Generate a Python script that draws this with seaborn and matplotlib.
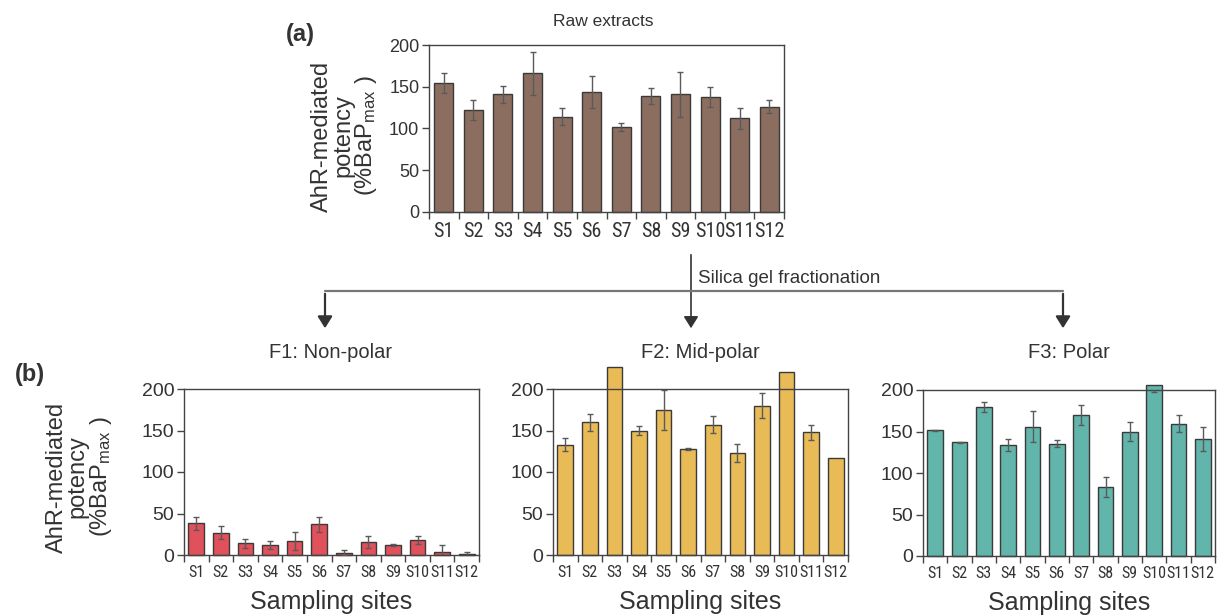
import matplotlib
matplotlib.use("Agg")
import matplotlib.pyplot as plt
import seaborn as sns
import pandas as pd
import numpy as np
from matplotlib import font_manager
from matplotlib.font_manager import FontProperties
from matplotlib.lines import Line2D
from matplotlib.patches import FancyArrowPatch

# ---------------- data ----------------
sites = ["S1", "S2", "S3", "S4", "S5", "S6", "S7", "S8", "S9", "S10", "S11", "S12"]
raw_vals = [155, 122, 141, 166, 114, 144, 102, 139, 141, 138, 112, 126]
raw_err = [12, 12, 10, 26, 10, 19, 5, 10, 27, 12, 13, 8]
f1_vals = [38, 27, 14, 12, 17, 37, 3, 16, 12, 18, 4, 1]
f1_err = [8, 8, 5, 5, 11, 9, 3, 7, 1.5, 5, 8, 2.5]
f2_vals = [133, 160, 226, 150, 175, 128, 157, 123, 180, 220, 148, 117]
f2_err = [8, 10, 0, 5, 24, 1, 10, 10.5, 15, 0, 9, 0]
f3_vals = [151.5, 137, 179, 134, 156, 135.5, 170, 83, 150, 205.5, 159.5, 140.5]
f3_err = [0.8, 0.8, 6, 7.5, 19, 4.5, 12.5, 12.5, 11.5, 8, 10.5, 14.5]
yticks = [0, 50, 100, 150, 200]

titles = ["Raw extracts", "F1: Non-polar", "F2: Mid-polar", "F3: Polar"]
colors = ["#8c6e60", "#e0515b", "#e8bb57", "#62b5aa"]

# ---------------- style ----------------
sns.set_theme(style="white")
plt.rcParams["font.family"] = ["Liberation Sans", "DejaVu Sans"]
plt.rcParams["mathtext.fontset"] = "custom"
plt.rcParams["mathtext.rm"] = "Liberation Sans"
plt.rcParams["mathtext.it"] = "Liberation Sans"


def find_condensed():
    best = None
    score_best = -1
    for f in font_manager.fontManager.ttflist:
        nm = f.name
        st = str(f.stretch).lower()
        fn = str(f.fname).lower()
        cond = ("narrow" in nm.lower() or "condensed" in nm.lower() or "condensed" in st
                or "narrow" in fn or "condensed" in fn)
        if not cond:
            continue
        if str(f.style) != "normal":
            continue
        w = f.weight
        try:
            w = int(w)
        except Exception:
            w = 400 if str(w).lower() in ("normal", "regular", "book") else 700
        if w > 500 or "bold" in fn:
            continue
        s = 1
        if "liberation" in fn:
            s = 5
        elif "roboto" in fn or "opensans" in fn or "open sans" in fn:
            s = 4
        elif "noto" in fn:
            s = 3
        elif "dejavu" in fn and "serif" not in fn and "mono" not in fn:
            s = 2
        if s > score_best:
            score_best = s
            best = f.fname
    return best


cond_path = find_condensed()

TXT = "#333333"
SPINE = "#444444"

fig = plt.figure(figsize=(12.17, 6.16), dpi=100)
W, H = 1217.0, 616.0


def ax_px(left, top, right, bottom):
    return fig.add_axes([left / W, 1 - bottom / H, (right - left) / W, (bottom - top) / H])


ax_top = ax_px(429, 45, 784, 212)
ax1 = ax_px(184, 389, 479, 555)
ax2 = ax_px(553, 389, 848, 555)
ax3 = ax_px(923, 390, 1215, 556)

ylab = "AhR-mediated\npotency\n(%BaP$_{\\mathrm{max}}$ )"


def draw(ax, vals, errs, color, xfs_cond, xfs_reg, yfs, xpad):
    df = pd.DataFrame({"site": sites, "val": vals})
    sns.barplot(data=df, x="site", y="val", color=color, saturation=1, width=0.64,
                edgecolor="#3a3a3a", linewidth=1.0, errorbar=None, ax=ax)
    for p in ax.patches:
        p.set_clip_on(False)
    e = np.array(errs, dtype=float)
    v = np.array(vals, dtype=float)
    m = e > 0
    ax.errorbar(np.arange(len(sites))[m], v[m], yerr=e[m], fmt="none", ecolor="#5a5a5a",
                elinewidth=1.0, capsize=2.5, capthick=1.0, zorder=5)
    ax.set_xlim(-0.5, 11.5)
    ax.set_ylim(0, 200)
    ax.set_yticks(yticks)
    ax.set_xticks(np.arange(len(sites)))
    ax.set_xticks(np.arange(-0.5, 12, 1.0), minor=True)
    ax.tick_params(axis="x", which="major", length=0, pad=xpad, colors=TXT,
                   labelsize=xfs_cond if cond_path else xfs_reg)
    ax.tick_params(axis="x", which="minor", length=5, width=1, color=SPINE, direction="out", bottom=True)
    ax.tick_params(axis="y", length=5, width=1, color=SPINE, direction="out", left=True,
                   labelsize=yfs, labelcolor=TXT, pad=2)
    if cond_path:
        fp = FontProperties(fname=cond_path, size=xfs_cond)
        for t in ax.get_xticklabels():
            t.set_fontproperties(fp)
    for s in ax.spines.values():
        s.set_color(SPINE)
        s.set_linewidth(1.0)
    ax.set_xlabel("")
    ax.set_ylabel("")


draw(ax_top, raw_vals, raw_err, colors[0], 14.5, 12.5, 13, 7)
draw(ax1, f1_vals, f1_err, colors[1], 11.5, 9.5, 14, 7)
draw(ax2, f2_vals, f2_err, colors[2], 11.5, 9.5, 14, 7)
draw(ax3, f3_vals, f3_err, colors[3], 11.5, 9.5, 14, 7)

# y labels
ax_top.set_ylabel(ylab, fontsize=17, color=TXT, linespacing=0.95, va="center", ha="center")
ax_top.yaxis.set_label_coords(-0.236, 0.455)
ax1.set_ylabel(ylab, fontsize=17, color=TXT, linespacing=0.95, va="center", ha="center")
ax1.yaxis.set_label_coords(-0.353, 0.47)

for ax in (ax1, ax2, ax3):
    ax.set_xlabel("Sampling sites", fontsize=18, color=TXT)
    ax.xaxis.set_label_coords(0.5, -0.283)
    ax.xaxis.label.set_va("center")

# titles
fig.text(603 / W, 1 - 22 / H, titles[0], ha="center", va="center", fontsize=12.5, color=TXT)
fig.text(331 / W, 1 - 353 / H, titles[1], ha="center", va="center", fontsize=14.5, color=TXT)
fig.text(700 / W, 1 - 353 / H, titles[2], ha="center", va="center", fontsize=14.5, color=TXT)
fig.text(1069 / W, 1 - 353 / H, titles[3], ha="center", va="center", fontsize=14.5, color=TXT)

fig.text(300 / W, 1 - 34 / H, "(a)", ha="center", va="center", fontsize=17, fontweight="bold", color=TXT)
fig.text(30 / W, 1 - 375 / H, "(b)", ha="center", va="center", fontsize=17, fontweight="bold", color=TXT)

# fractionation arrows
fig.text(698 / W, 1 - 283 / H, "Silica gel fractionation", ha="left", va="baseline", fontsize=13.5, color=TXT)


def fy(y):
    return 1 - y / H


fig.add_artist(Line2D([325 / W, 1063 / W], [fy(291), fy(291)], color="#777777", lw=1.6,
                      transform=fig.transFigure))
for x0, ytop in ((325, 291), (691, 252), (1063, 291)):
    fig.add_artist(FancyArrowPatch((x0 / W, fy(ytop)), (x0 / W, fy(331)), transform=fig.transFigure,
                                   arrowstyle="-|>,head_length=3.2,head_width=2", mutation_scale=2.2,
                                   color="#333333", lw=1.2 if x0 == 691 else 1.6))

fig.savefig("out.png", dpi=100)
